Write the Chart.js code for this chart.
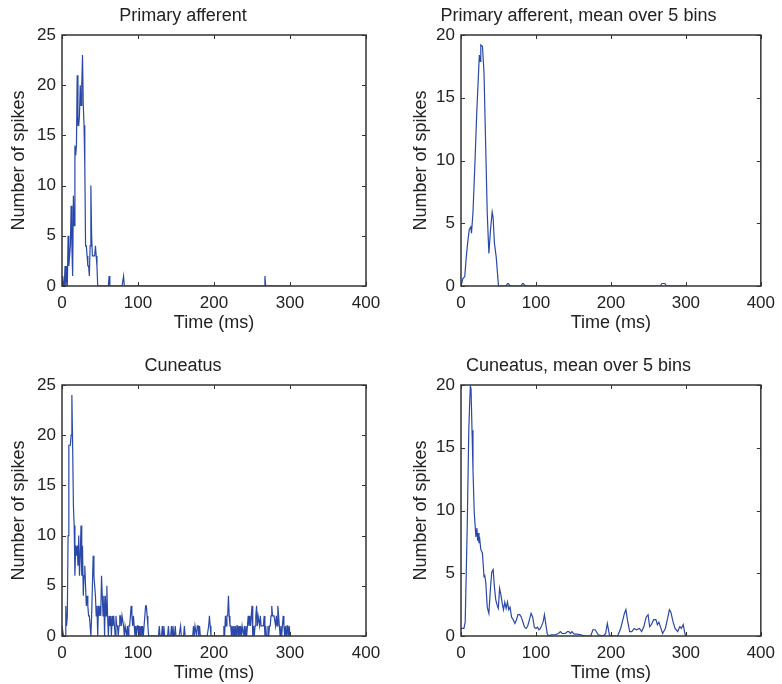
<!DOCTYPE html>
<html>
<head>
<meta charset="utf-8">
<script src="https://cdn.jsdelivr.net/npm/chart.js@4"></script>
<style>
  body { margin: 0; background: #fff; width: 782px; height: 684px; overflow: hidden; position: relative; }
  .panel { position: absolute; }
</style>
</head>
<body>
<div class="panel" style="left:0;top:0"><canvas id="c1" width="391" height="342"></canvas></div>
<div class="panel" style="left:391px;top:0"><canvas id="c2" width="391" height="342"></canvas></div>
<div class="panel" style="left:0;top:350px"><canvas id="c3" width="391" height="342"></canvas></div>
<div class="panel" style="left:391px;top:350px"><canvas id="c4" width="391" height="342"></canvas></div>
<script>
// spike counts per 1 ms bin, bins 0..300 ms
var afferentCounts = [
    0,1,0,0,2,0,2,0,5,2, 3,4,8,4,1,9,6,14,13,14,
    21,16,16,17,20,18,20,23,18,16, 12,4,4,3,2,2,1,4,10,5,
    3,3,3,3,4,3,2,0,0,0, 0,0,0,0,0,0,0,0,0,0,
    0,0,1,0,0,0,0,0,0,0, 0,0,0,0,0,0,0,0,0,0,
    0,1,0,0,0,0,0,0,0,0, 0,0,0,0,0,0,0,0,0,0,
    0,0,0,0,0,0,0,0,0,0, 0,0,0,0,0,0,0,0,0,0,
    0,0,0,0,0,0,0,0,0,0, 0,0,0,0,0,0,0,0,0,0,
    0,0,0,0,0,0,0,0,0,0, 0,0,0,0,0,0,0,0,0,0,
    0,0,0,0,0,0,0,0,0,0, 0,0,0,0,0,0,0,0,0,0,
    0,0,0,0,0,0,0,0,0,0, 0,0,0,0,0,0,0,0,0,0,
    0,0,0,0,0,0,0,0,0,0, 0,0,0,0,0,0,0,0,0,0,
    0,0,0,0,0,0,0,0,0,0, 0,0,0,0,0,0,0,0,0,0,
    0,0,0,0,0,0,0,0,0,0, 0,0,0,0,0,0,0,0,0,0,
    0,0,0,0,0,0,0,1,0,0, 0,0,0,0,0,0,0,0,0,0,
    0,0,0,0,0,0,0,0,0,0, 0,0,0,0,0,0,0,0,0,0,
    0
]
var cuneatusCounts = [
    1,1,0,0,0,3,1,2,10,19, 19,19,20,24,19,13,11,6,9,8,
    9,7,10,6,8,11,6,9,4,6, 7,5,3,4,3,2,2,1,0,2,
    5,8,6,5,4,2,3,0,3,2, 3,2,6,4,2,4,0,4,2,5,
    2,0,2,1,2,0,2,1,2,1, 0,2,1,1,0,1,2,2,1,2,
    2,1,0,1,1,0,1,0,1,1, 2,3,2,1,2,1,0,1,0,1,
    1,0,1,0,1,0,1,0,1,1, 3,3,2,1,0,0,0,0,0,0,
    0,0,0,0,0,0,0,0,1,0, 0,0,1,0,1,0,0,0,0,0,
    1,0,0,0,1,0,1,0,0,1, 0,0,0,0,0,0,1,0,0,0,
    0,1,0,0,0,0,0,0,0,0, 0,0,0,1,0,1,1,0,1,1,
    0,1,0,0,0,0,0,0,0,0, 0,0,0,1,2,1,0,0,0,0,
    0,0,0,0,0,0,0,0,0,0, 0,0,0,1,0,2,1,2,2,4,
    2,1,1,0,1,0,1,0,1,0, 1,1,0,1,0,1,0,1,1,0,
    1,0,1,0,1,2,1,2,1,2, 3,0,1,0,1,2,3,1,2,2,
    1,2,1,1,1,1,2,0,1,0, 0,1,0,1,1,2,3,2,2,2,
    2,1,2,1,3,2,1,0,1,0, 1,2,1,0,1,0,1,1,0,1,
    0
]

// mean over 5 bins (time in ms, value)
var afferentMeanTimes = [0,2.6,5,7,9,11,13,14,16,18.6,21,23.4,24.5,25.5,26.4,28.6,30.7,33,35,37.2,39.4,41.6,42.8,44.6,47,50,60,62,63,64,66,80,82,83,84,86,266,268,270,272,274,300]
var afferentMeanValues = [0,0.6,0.75,2.3,3.5,4.5,4.7,4.2,5.9,9.8,13.8,17,18.4,17.9,19.2,19.1,17,11,5.8,2.6,4.5,5.9,5.5,3.4,2.3,0,0,0.2,0.2,0.2,0,0,0.2,0.2,0.2,0,0,0.2,0.2,0.2,0,0]

var cuneatusMeanTimes = [0,1.3,3.9,5.6,8.2,10.4,11.7,12.5,13.4,14.7,16,17.7,19.9,21.2,22.2,23,24,24.7,26.4,28.6,
    30.7,31.5,33,35,37.2,39.4,41.1,42.9,44.6,46.3,48,49.8,51.5,53.2,55,56.7,58.4,60.2,62,63.6,
    65.4,67.5,69.7,71.9,74,76,78.4,80.5,82.7,84.8,87,89,91.3,93.5,95.7,97.8,100,102,104,106,
    109.5,111.3,113,115,117,120,126,130,132.5,135,139,142,144,146,148,151,155,160,165,173,
    176,179,183,190,193,195.2,198,201,209,213,216,218,220,222,225,228,231,234,238,241,
    244,247,249.6,251.7,254,257,260,262,264,266,269,272.6,276,278,280,283,285.6,289,292,294,
    296.5,298.7,300]
var cuneatusMeanValues = [0.6,0.6,0.6,1.1,8.4,16.4,18.8,19.9,19.7,16.4,13.2,9.8,7.9,8.6,7.6,8.2,7.4,7.9,6.9,6.6,
    4.7,4.9,4.3,2.3,1.8,3.9,5.1,5.3,3.9,2.9,2.5,2.2,3.8,3.3,2.6,2.1,2.7,2.2,2.7,2.1,
    2.3,1.5,1.3,1.0,1.3,1.7,1.7,1.5,1.1,0.7,0.6,0.8,1.3,1.8,1.5,0.7,0.6,0.7,0.5,0.6,
    1.1,1.7,1.0,0.2,0,0.1,0.1,0.2,0.35,0.2,0.2,0.35,0.35,0.2,0.35,0.15,0.15,0.1,0,0,
    0.5,0.5,0.1,0,0.2,1.0,0.1,0,0,0.6,1.3,1.8,2.1,1.3,0.35,0.35,0.6,0.5,0.6,0.35,
    0.75,1.5,1.7,0.75,0.9,1.3,1.3,0.9,1.1,0.75,0.2,0.6,1.5,2.1,1.9,1.1,0.6,0.35,0.75,0.6,
    0.9,0.2,0]

var xTicks = [0, 100, 200, 300, 400]
var lineColor = '#2a48a8'
var ink = '#222'

Chart.defaults.font.family = "'Liberation Sans', Arial, sans-serif"
Chart.defaults.color = ink

function binPoints(counts) {
    return counts.map(function (c, i) { return {x: i, y: c} })
}
function pairPoints(times, values) {
    return times.map(function (t, i) { return {x: t, y: values[i]} })
}

// matlab style box with inward ticks
var boxTicks = {
    id: 'boxTicks',
    afterDraw: function (chart) {
        var ctx = chart.ctx, a = chart.chartArea
        var xs = chart.scales.x, ys = chart.scales.y
        ctx.save()
        ctx.strokeStyle = '#333'
        ctx.lineWidth = 1.5
        ctx.strokeRect(a.left, a.top, a.right - a.left, a.bottom - a.top)
        ctx.lineWidth = 1
        ctx.beginPath()
        xs.ticks.forEach(function (t) {
            var px = Math.round(xs.getPixelForValue(t.value)) + 0.5
            ctx.moveTo(px, a.bottom); ctx.lineTo(px, a.bottom - 4)
            ctx.moveTo(px, a.top); ctx.lineTo(px, a.top + 4)
        })
        ys.ticks.forEach(function (t) {
            var py = Math.round(ys.getPixelForValue(t.value)) + 0.5
            ctx.moveTo(a.left, py); ctx.lineTo(a.left + 4, py)
            ctx.moveTo(a.right, py); ctx.lineTo(a.right - 4, py)
        })
        ctx.stroke()
        ctx.restore()
    }
}

function makePanel(id, title, points, yMax, leftW, rightPad, yTitlePad) {
    return new Chart(id, {
        type: 'line',
        data: {
            datasets: [{
                data: points,
                borderColor: lineColor,
                borderWidth: 1.2,
                pointRadius: 0,
                tension: 0,
                fill: false
            }]
        },
        options: {
            responsive: false,
            animation: false,
            devicePixelRatio: 1,
            layout: { padding: { right: rightPad } },
            plugins: {
                legend: { display: false },
                tooltip: { enabled: false },
                title: {
                    display: true,
                    text: title,
                    color: ink,
                    font: { size: 18, weight: 'normal' },
                    padding: { top: 5, bottom: 8.4 }
                }
            },
            scales: {
                x: {
                    type: 'linear',
                    min: 0, max: 400,
                    afterBuildTicks: function (s) { s.ticks = xTicks.map(function (v) { return {value: v} }) },
                    ticks: { padding: 7, maxRotation: 0, font: { size: 17 } },
                    grid: { display: false, drawTicks: false },
                    border: { display: false },
                    title: { display: true, text: 'Time (ms)', font: { size: 18 }, padding: { top: 0, bottom: 7.7 } },
                    afterFit: function (s) { s.height = 56 }
                },
                y: {
                    min: 0, max: yMax,
                    ticks: { stepSize: 5, padding: 6, font: { size: 17 } },
                    grid: { display: false, drawTicks: false },
                    border: { display: false },
                    title: { display: true, text: 'Number of spikes', font: { size: 18 }, padding: { top: yTitlePad, bottom: 0 } },
                    afterFit: function (s) { s.width = leftW }
                }
            }
        },
        plugins: [boxTicks]
    })
}

makePanel('c1', 'Primary afferent', binPoints(afferentCounts), 25, 62, 25, 8)
makePanel('c2', 'Primary afferent, mean over 5 bins', pairPoints(afferentMeanTimes, afferentMeanValues), 20, 70, 16, 19)
makePanel('c3', 'Cuneatus', binPoints(cuneatusCounts), 25, 62, 25, 8)
makePanel('c4', 'Cuneatus, mean over 5 bins', pairPoints(cuneatusMeanTimes, cuneatusMeanValues), 20, 70, 16, 19)
</script>
</body>
</html>
